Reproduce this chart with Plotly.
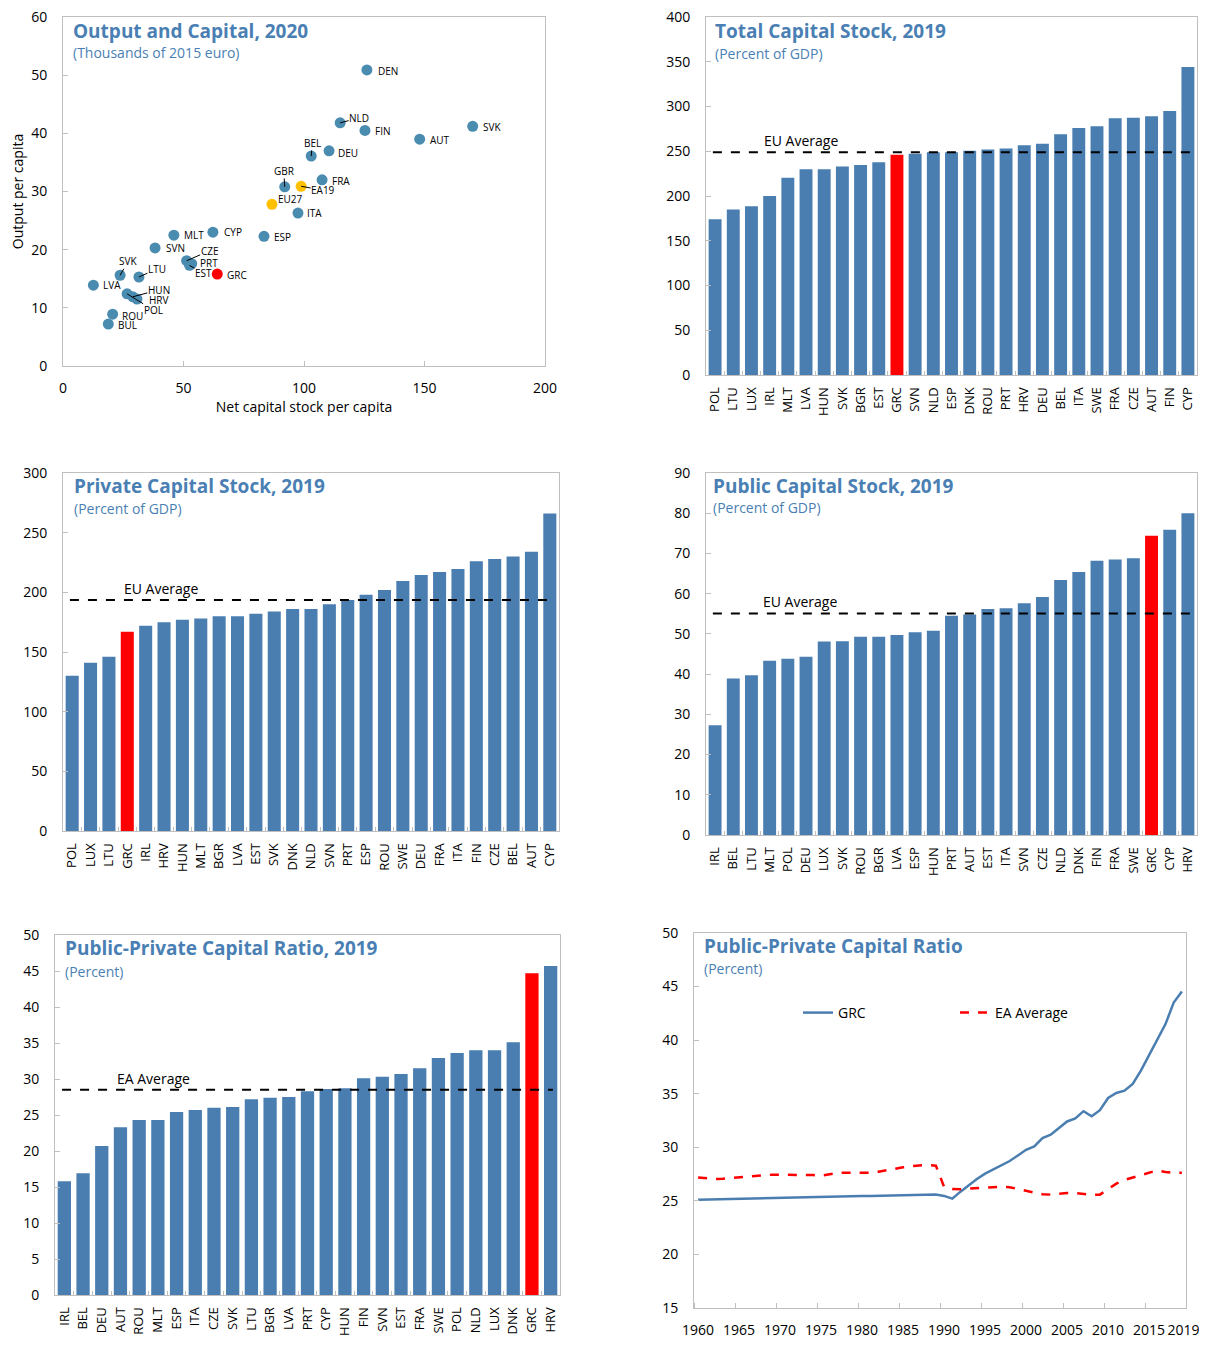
import plotly.graph_objects as go

# the page body adds an 8px margin; figure is sized/positioned to compensate
OFF = 8
W, H = 1207 - 2 * OFF, 1353 - 2 * OFF - 4
FONT = "Open Sans"
BLUE = "#4a7eb0"
DOT = "#4a8bb0"
RED = "#ff0000"
YEL = "#ffc000"
TITLE_C = "#4a7fb4"
FRAME = "#bfbfbf"

# ---------------- data ----------------
sc_labels = ["DEN", "NLD", "FIN", "AUT", "SVK", "BEL", "DEU", "GBR", "EA19", "FRA",
             "EU27", "ITA", "ESP", "CYP", "MLT", "SVN", "CZE", "PRT", "EST", "GRC",
             "SVK", "LTU", "LVA", "POL", "HUN", "HRV", "ROU", "BUL"]
sc_capital = [126.1, 115.0, 125.3, 148.0, 170.0, 103.0, 110.4, 92.0, 98.8, 107.5,
              86.7, 97.5, 83.4, 62.2, 46.0, 38.2, 51.3, 53.4, 52.5, 64.0,
              23.7, 31.5, 12.6, 26.6, 29.0, 30.7, 20.6, 18.8]
sc_output = [50.9, 41.8, 40.5, 39.0, 41.2, 36.1, 37.0, 30.8, 30.9, 32.0,
             27.8, 26.3, 22.3, 23.0, 22.5, 20.3, 18.1, 17.6, 17.3, 15.8,
             15.6, 15.3, 13.9, 12.4, 11.9, 11.5, 8.9, 7.2]

tot_cats = ["POL", "LTU", "LUX", "IRL", "MLT", "LVA", "HUN", "SVK", "BGR", "EST", "GRC",
            "SVN", "NLD", "ESP", "DNK", "ROU", "PRT", "HRV", "DEU", "BEL", "ITA", "SWE",
            "FRA", "CZE", "AUT", "FIN", "CYP"]
tot_vals = [174, 185, 188.5, 200, 220.5, 229.8, 229.8, 233, 234.6, 237.6, 246,
            247.3, 249, 249, 250.6, 252, 253, 256.6, 258.5, 269, 276, 278,
            287, 287.5, 289, 295, 344]
tot_avg = 249

prv_cats = ["POL", "LUX", "LTU", "GRC", "IRL", "HRV", "HUN", "MLT", "BGR", "LVA", "EST",
            "SVK", "DNK", "NLD", "SVN", "PRT", "ESP", "ROU", "SWE", "DEU", "FRA", "ITA",
            "FIN", "CZE", "BEL", "AUT", "CYP"]
prv_vals = [130, 141, 146, 167, 172, 175, 177, 178, 180, 180, 182,
            184, 186, 186, 190, 193.6, 198, 202, 209.5, 214.6, 217, 219.6,
            226, 228, 230, 234, 266]
prv_avg = 193.6

pub_cats = ["IRL", "BEL", "LTU", "MLT", "POL", "DEU", "LUX", "SVK", "ROU", "BGR", "LVA",
            "ESP", "HUN", "PRT", "AUT", "EST", "ITA", "SVN", "CZE", "NLD", "DNK", "FIN",
            "FRA", "SWE", "GRC", "CYP", "HRV"]
pub_vals = [27.3, 38.9, 39.7, 43.3, 43.8, 44.3, 48.1, 48.2, 49.3, 49.3, 49.7,
            50.4, 50.8, 54.5, 54.8, 56.2, 56.4, 57.6, 59.2, 63.4, 65.4, 68.2,
            68.5, 68.8, 74.4, 75.9, 80.0]
pub_avg = 55.1

rat_cats = ["IRL", "BEL", "DEU", "AUT", "ROU", "MLT", "ESP", "ITA", "CZE", "SVK", "LTU",
            "BGR", "LVA", "PRT", "CYP", "HUN", "FIN", "SVN", "EST", "FRA", "SWE", "POL",
            "NLD", "LUX", "DNK", "GRC", "HRV"]
rat_vals = [15.8, 16.9, 20.7, 23.3, 24.3, 24.3, 25.4, 25.7, 26.0, 26.1, 27.2,
            27.4, 27.5, 28.3, 28.6, 28.7, 30.1, 30.3, 30.7, 31.5, 32.9, 33.6,
            34.0, 34.0, 35.1, 44.7, 45.7]
rat_avg = 28.5

years = list(range(1960, 2020))
grc_ratio = [25.10, 25.12, 25.13, 25.15, 25.17, 25.19, 25.20, 25.22, 25.24, 25.26,
             25.27, 25.29, 25.31, 25.32, 25.34, 25.36, 25.38, 25.39, 25.41, 25.43,
             25.45, 25.46, 25.48, 25.50, 25.51, 25.53, 25.55, 25.56, 25.58, 25.60,
             25.46, 25.21, 25.86, 26.48, 27.04, 27.54, 27.94, 28.34, 28.72, 29.24,
             29.77, 30.08, 30.86, 31.17, 31.82, 32.41, 32.69, 33.37, 32.90, 33.46,
             34.60, 35.07, 35.29, 35.91, 37.15, 38.58, 40.10, 41.50, 43.51, 44.53]
ea_ratio = [27.17, 27.10, 27.04, 27.07, 27.13, 27.23, 27.29, 27.32, 27.38, 27.44,
            27.44, 27.44, 27.47, 27.47, 27.41, 27.35, 27.47, 27.60, 27.63, 27.63,
            27.63, 27.63, 27.72, 27.88, 28.00, 28.13, 28.25, 28.34, 28.37, 28.28,
            26.30, 26.11, 26.08, 26.14, 26.20, 26.27, 26.30, 26.33, 26.27, 26.11,
            25.96, 25.77, 25.61, 25.58, 25.68, 25.74, 25.74, 25.68, 25.55, 25.58,
            26.08, 26.60, 26.95, 27.17, 27.38, 27.63, 27.85, 27.69, 27.60, 27.63]
line_tick_labels = ["1960", "1965", "1970", "1975", "1980", "1985", "1990", "1995",
                    "2000", "2005", "2010", "2015", "2019"]

# ---------------- helpers (page pixel -> paper fraction) ----------------
def px(x):
    return (x - OFF) / W

def py(y):
    return 1 - (y - OFF) / H

def dx(a, b):
    return [px(a), px(b)]

def dy(top, bottom):
    return [py(bottom), py(top)]

panels = {
    1: (63, 545, 17, 366),
    2: (706, 1197, 17, 375),
    3: (63, 559, 473, 831),
    4: (706, 1197, 473, 835),
    5: (55, 560, 935, 1295),
    6: (694, 1186, 933, 1308),
}

fig = go.Figure()

# scatter
sc_colors = [YEL if l in ("EU27", "EA19") else RED if l == "GRC" else DOT for l in sc_labels]
fig.add_trace(go.Scatter(x=sc_capital, y=sc_output, mode="markers",
                         marker=dict(size=11, color=sc_colors), showlegend=False,
                         xaxis="x", yaxis="y", hoverinfo="text", text=sc_labels))

def bar_colors(cats):
    return [RED if c == "GRC" else BLUE for c in cats]

for i, (cats, vals) in enumerate([(tot_cats, tot_vals), (prv_cats, prv_vals),
                                  (pub_cats, pub_vals), (rat_cats, rat_vals)], start=2):
    fig.add_trace(go.Bar(x=cats, y=vals, marker=dict(color=bar_colors(cats), line=dict(width=0)),
                         showlegend=False, xaxis=f"x{i}", yaxis=f"y{i}"))

fig.add_trace(go.Scatter(x=years, y=grc_ratio, mode="lines", name="GRC",
                         line=dict(color=BLUE, width=2.5), xaxis="x6", yaxis="y6"))
fig.add_trace(go.Scatter(x=years, y=ea_ratio, mode="lines", name="EA Average",
                         line=dict(color=RED, width=2.5, dash="dash"), xaxis="x6", yaxis="y6"))

tickfont = dict(family=FONT, size=14, color="#000")
layout = dict(
    width=W, height=H, margin=dict(l=0, r=0, t=0, b=0, autoexpand=False),
    paper_bgcolor="white", plot_bgcolor="white",
    font=dict(family=FONT, size=14, color="#000"),
    bargap=0.29,
    showlegend=True,
    legend=dict(orientation="h", x=px(798), y=py(1013), xanchor="left", yanchor="middle",
                bgcolor="rgba(0,0,0,0)", font=dict(family=FONT, size=14),
                itemwidth=30, entrywidth=112, tracegroupgap=0),
)

def frame_axis(**kw):
    d = dict(showline=True, mirror=True, linecolor=FRAME, linewidth=1, showgrid=False,
             zeroline=False, ticks="inside", ticklen=5, tickcolor=FRAME, tickfont=tickfont,
             ticklabelstandoff=12, automargin=False, ticklabeloverflow="allow")
    d.update(kw)
    return d

for i, (x0, x1, t, b) in panels.items():
    s = "" if i == 1 else str(i)
    layout[f"xaxis{s}"] = frame_axis(domain=dx(x0, x1), anchor=f"y{s}")
    layout[f"yaxis{s}"] = frame_axis(domain=dy(t, b), anchor=f"x{s}")

layout["xaxis"].update(range=[0, 200], dtick=50, ticklabelstandoff=9,
                       title=dict(text="Net capital stock per capita", font=dict(family=FONT, size=14), standoff=4))
layout["yaxis"].update(range=[0, 60], dtick=10,
                       title=dict(text="Output per capita", font=dict(family=FONT, size=14), standoff=10))

for i, (rng, dt) in zip([2, 3, 4, 5], [([0, 400], 50), ([0, 300], 50), ([0, 90], 10), ([0, 50], 5)]):
    layout[f"xaxis{i}"].update(type="category", tickangle=-90, tickson="boundaries", ticklen=4,
                               tickfont=dict(family=FONT, size=13, color="#000"), ticklabelstandoff=6)
    layout[f"yaxis{i}"].update(range=rng, dtick=dt)

line_tick_vals = [1960, 1965, 1970, 1975, 1980, 1985, 1990, 1995, 2000, 2005, 2010, 2015, 2019.2]
layout["xaxis6"].update(range=[1959.5, 2019.5], tickmode="array", tickvals=line_tick_vals,
                        ticktext=line_tick_labels, ticks="", tickangle=0, ticklabelstandoff=9,
                        minor=dict(tick0=1959.5, dtick=5, ticks="inside", ticklen=5, tickcolor=FRAME))
layout["yaxis6"].update(range=[15, 50], dtick=5)

fig.update_layout(**layout)

# titles
titles = [
    (71, 31, 53, "Output and Capital, 2020", "(Thousands of 2015 euro)"),
    (713, 31, 54, "Total Capital Stock, 2019", "(Percent of GDP)"),
    (72, 486, 509, "Private Capital Stock, 2019", "(Percent of GDP)"),
    (711, 486, 508, "Public Capital Stock, 2019", "(Percent of GDP)"),
    (63, 948, 971, "Public-Private Capital Ratio, 2019", "(Percent)"),
    (702, 946, 969, "Public-Private Capital Ratio", "(Percent)"),
]
for x, yt, ys, t, s in titles:
    fig.add_annotation(xref="paper", yref="paper", x=px(x), y=py(yt), text=f"<b>{t}</b>",
                       showarrow=False, xanchor="left", yanchor="middle",
                       font=dict(family=FONT, size=19, color=TITLE_C))
    fig.add_annotation(xref="paper", yref="paper", x=px(x), y=py(ys), text=s,
                       showarrow=False, xanchor="left", yanchor="middle",
                       font=dict(family=FONT, size=14, color=TITLE_C))

# average lines
for i, avg, lbl, lx in [(2, tot_avg, "EU Average", 0.115), (3, prv_avg, "EU Average", 0.119),
                        (4, pub_avg, "EU Average", 0.113), (5, rat_avg, "EA Average", 0.119)]:
    fig.add_shape(type="line", xref=f"x{i} domain", yref=f"y{i}", x0=0.014, x1=0.986, y0=avg, y1=avg,
                  line=dict(color="black", width=2, dash="dash"))
    fig.add_annotation(xref=f"x{i} domain", yref=f"y{i}", x=lx, y=avg, text=lbl, showarrow=False,
                       xanchor="left", yanchor="bottom", yshift=0,
                       font=dict(family=FONT, size=14, color="#000"))

# scatter labels: (dx, dy, arrow)
label_pos = {
    0: (21, 1, False), 1: (19, -5, True), 2: (18, 1, False), 3: (20, 1, False), 4: (19, 1, False),
    5: (1, -13, True), 6: (19, 2, False), 7: (-1, -16, True), 8: (22, 4, True), 9: (19, 1, False),
    10: (19, -5, False), 11: (17, 0, False), 12: (19, 1, False), 13: (20, 0, False), 14: (20, 0, False),
    15: (20, 0, False), 16: (23, -10, True), 17: (17, -1, False), 18: (14, 8, True), 19: (20, 1, False),
    20: (8, -14, True), 21: (18, -8, True), 22: (19, 0, False), 23: (26, 16, True), 24: (26, -7, True),
    25: (22, 1, False), 26: (20, 2, False), 27: (19, 1, False),
}
for k, (lab, xv, yv) in enumerate(zip(sc_labels, sc_capital, sc_output)):
    ddx, ddy, arrow = label_pos[k]
    if arrow:
        fig.add_annotation(xref="x", yref="y", x=xv, y=yv, text=lab, showarrow=True,
                           arrowhead=0, arrowwidth=1, arrowcolor="black", ax=ddx, ay=ddy,
                           standoff=0, borderpad=0, font=dict(family=FONT, size=10, color="#000"))
    else:
        fig.add_annotation(xref="x", yref="y", x=xv, y=yv, text=lab, showarrow=False,
                           xshift=ddx, yshift=-ddy, font=dict(family=FONT, size=10, color="#000"))

fig.write_html("out.html")
